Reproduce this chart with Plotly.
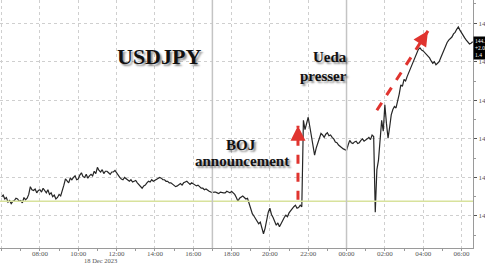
import pandas as pd
import plotly.graph_objects as go

# USDJPY, 5-minute samples starting 18 Dec 2023 06:00, one row per hour
start_time = "2023-12-18 06:00"
prices = [
    142.75, 142.77, 142.72, 142.74, 142.68, 142.70, 142.66, 142.69, 142.70, 142.73, 142.72, 142.69,  # 06
    142.70, 142.67, 142.74, 142.71, 142.73, 142.78, 142.88, 142.84, 142.83, 142.85, 142.80, 142.83,  # 07
    142.84, 142.81, 142.86, 142.83, 142.80, 142.84, 142.78, 142.80, 142.75, 142.77, 142.72, 142.74,  # 08
    142.78, 142.76, 142.82, 142.90, 142.98, 142.95, 142.93, 142.99, 142.97, 143.00, 143.02, 142.97,  # 09
    142.98, 143.03, 143.06, 143.01, 143.00, 143.04, 142.99, 143.02, 143.04, 143.02, 143.08, 143.05,  # 10
    143.13, 143.09, 143.07, 143.10, 143.05, 143.08, 143.08, 143.06, 143.04, 143.07, 143.07, 143.09,  # 11
    143.06, 143.02, 143.00, 142.98, 142.97, 143.00, 142.98, 142.96, 142.95, 142.97, 142.94, 142.95,  # 12
    142.96, 142.93, 142.91, 142.88, 142.86, 142.89, 142.90, 142.93, 142.95, 142.94, 142.97, 142.95,  # 13
    142.96, 142.98, 142.99, 143.00, 142.99, 142.97, 142.97, 142.95, 142.95, 142.93, 142.93, 142.91,  # 14
    142.90, 142.88, 142.89, 142.91, 142.92, 142.90, 142.93, 142.94, 142.95, 142.93, 142.91, 142.93,  # 15
    142.92, 142.90, 142.89, 142.90, 142.88, 142.86, 142.86, 142.84, 142.85, 142.83, 142.82, 142.81,  # 16
    142.80, 142.81, 142.81, 142.80, 142.79, 142.81, 142.80, 142.80, 142.80, 142.82, 142.81, 142.80,  # 17
    142.82, 142.80, 142.78, 142.74, 142.69, 142.73, 142.75, 142.76, 142.74, 142.72, 142.73, 142.66,  # 18
    142.58, 142.53, 142.50, 142.46, 142.44, 142.40, 142.42, 142.35, 142.27, 142.34, 142.45, 142.55,  # 19
    142.60, 142.52, 142.48, 142.42, 142.38, 142.41, 142.36, 142.40, 142.45, 142.48, 142.51, 142.49,  # 20
    142.54, 142.57, 142.60, 142.62, 142.64, 142.60, 142.61, 142.64, 142.62, 143.74, 143.62, 143.70,  # 21
    143.78, 143.66, 143.55, 143.40, 143.29, 143.38, 143.45, 143.52, 143.57, 143.55, 143.52, 143.56,  # 22
    143.58, 143.54, 143.55, 143.52, 143.50, 143.46, 143.45, 143.42, 143.40, 143.38, 143.37, 143.36,  # 23
    143.35, 143.42, 143.48, 143.45, 143.44, 143.46, 143.47, 143.44, 143.45, 143.48, 143.50, 143.47,  # 00
    143.48, 143.50, 143.52, 143.49, 143.55, 143.53, 142.55, 143.10, 143.22, 143.45, 143.74, 143.60,  # 01
    143.94, 143.70, 143.51, 143.65, 143.81, 143.88, 143.92, 143.90, 143.98, 144.08, 144.20, 144.18,  # 02
    144.27, 144.25, 144.31, 144.36, 144.42, 144.47, 144.52, 144.58, 144.62, 144.66, 144.68, 144.65,  # 03
    144.64, 144.62, 144.60, 144.57, 144.55, 144.51, 144.48, 144.50, 144.46, 144.48, 144.50, 144.55,  # 04
    144.60, 144.66, 144.70, 144.75, 144.78, 144.80, 144.82, 144.86, 144.88, 144.92, 144.95, 144.91,  # 05
    144.87, 144.84, 144.81, 144.78, 144.76, 144.73, 144.74, 144.76,                                  # 06
]
times = pd.date_range(start_time, periods=len(prices), freq="5min")

reference_level = 142.69
session_breaks = ["2023-12-18 17:00", "2023-12-19 00:00"]

x_tick_vals = pd.date_range("2023-12-18 06:00", "2023-12-19 06:00", freq="2h")
x_tick_text = [t.strftime("%H:%M") for t in x_tick_vals]
y_tick_vals = [142.5, 143.0, 143.5, 144.0, 144.5, 145.0]
y_tick_text = ["142.50", "143.00", "143.50", "144.00", "144.50", "145.00"]
x_range = ["2023-12-18 05:55", "2023-12-19 06:36"]
y_range = [142.085, 145.30]

# annotation arrows (data coordinates)
boj_arrow = (("2023-12-18 21:28", 142.71), ("2023-12-18 21:28", 143.67))
ueda_arrow = (("2023-12-19 01:35", 143.87), ("2023-12-19 04:15", 144.90))

RED = "#e0342f"
SERIF = "Liberation Serif"
SHADOW = "2px 2px 2px rgba(0,0,0,0.45)"

fig = go.Figure()
fig.add_trace(go.Scatter(x=times, y=prices, mode="lines",
                         line=dict(color="#262626", width=1.2), hoverinfo="skip"))

fig.add_hline(y=reference_level, line=dict(color="#d8e29c", width=1.5))
for sb in session_breaks:
    fig.add_vline(x=sb, line=dict(color="#c4c4c4", width=1.5))

# dashed arrow bodies
for (x0, y0), (x1, y1) in (boj_arrow, ueda_arrow):
    fig.add_shape(type="line", x0=x0, y0=y0, x1=x1, y1=y1, xref="x", yref="y",
                  line=dict(color=RED, width=3, dash="dash"))

# arrow heads
fig.add_annotation(x=boj_arrow[1][0], y=boj_arrow[1][1], ax=0, ay=10,
                   text="", showarrow=True, arrowhead=2, arrowsize=1,
                   arrowwidth=3, arrowcolor=RED)
fig.add_annotation(x=ueda_arrow[1][0], y=ueda_arrow[1][1], ax=-5.4, ay=8.4,
                   text="", showarrow=True, arrowhead=2, arrowsize=1,
                   arrowwidth=3, arrowcolor=RED)

W, H = 485, 263
PW, PH = 473, 248
def px(x):
    return x / PW
def py(y):
    return 1 - y / PH

def shadow_text(text, x, y, size):
    fig.add_annotation(x=px(x), y=py(y), xref="paper", yref="paper", text=text,
                       showarrow=False,
                       font=dict(family=SERIF, size=size, color="#111111",
                                 shadow=SHADOW))

shadow_text("<b>USDJPY</b>", 159, 42, 22)
shadow_text("<b>BOJ</b>", 241, 145, 15)
shadow_text("<b>announcement</b>", 242, 161, 15)
shadow_text("<b>Ueda</b>", 349, 47, 15)
shadow_text("<b>presser</b>", 349, 66, 15)

# date labels under the time axis
for label, xpos in (("18 Dec 2023", "2023-12-18 11:10"), ("19 Dec 2023", "2023-12-19 23:42")):
    fig.add_annotation(x=xpos, y=0, xref="x", yref="paper", yanchor="top",
                       yshift=-7, text=label, showarrow=False,
                       font=dict(family=SERIF, size=6.5, color="#555555"))

# last price tag
fig.add_annotation(x=1, y=144.68, xref="paper", yref="y", xanchor="left",
                   text="144.76<br>+2.0<br>1.4", showarrow=False, align="left",
                   bgcolor="black", borderpad=1,
                   font=dict(family=SERIF, size=5.5, color="white"))

fig.update_layout(
    width=W, height=H,
    margin=dict(l=0, r=W - PW, t=0, b=H - PH, autoexpand=False),
    paper_bgcolor="white", plot_bgcolor="white",
    showlegend=False,
    xaxis=dict(range=x_range, tickvals=list(x_tick_vals), ticktext=x_tick_text,
               automargin=False, ticklabelstandoff=-3,
               showgrid=True, gridcolor="#cfcfcf", griddash="dot", gridwidth=1,
               showline=True, linecolor="#9a9a9a", linewidth=1,
               ticks="outside", ticklen=2, tickcolor="#9a9a9a",
               minor=dict(dtick=3600000, ticks="outside", ticklen=2,
                          tickcolor="#9a9a9a", showgrid=False),
               tickfont=dict(family=SERIF, size=7, color="#555555"),
               zeroline=False),
    yaxis=dict(range=y_range, side="right", tickvals=y_tick_vals,
               ticktext=y_tick_text, automargin=False,
               showgrid=True, gridcolor="#cfcfcf", griddash="dot", gridwidth=1,
               showline=True, linecolor="#9a9a9a", linewidth=1,
               ticks="outside", ticklen=3, tickcolor="#555555",
               minor=dict(dtick=0.25, ticks="outside", ticklen=2,
                          tickcolor="#9a9a9a", showgrid=False),
               tickfont=dict(family=SERIF, size=7, color="#555555"),
               zeroline=False),
)

fig.write_html("out.html")
